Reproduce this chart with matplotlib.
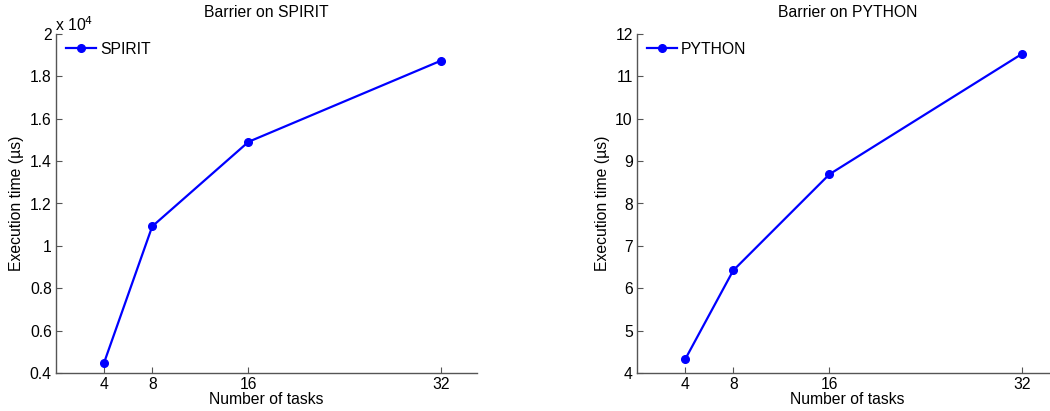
import matplotlib.pyplot as plt
from matplotlib.ticker import FuncFormatter

plt.rcParams['font.family'] = ['Liberation Sans', 'DejaVu Sans']

# data
tasks = [4, 8, 16, 32]
spirit_us = [0.449e4, 1.092e4, 1.491e4, 1.874e4]
python_us = [4.32, 6.42, 8.69, 11.53]

W, H = 1050, 411
fig = plt.figure(figsize=(W / 100, H / 100), dpi=100)

axis_color = '#555555'
fs = 11.3


def style(ax):
    for s in ['top', 'right']:
        ax.spines[s].set_visible(False)
    for s in ['left', 'bottom']:
        ax.spines[s].set_color(axis_color)
        ax.spines[s].set_linewidth(1.0)
    ax.tick_params(direction='in', length=4, colors=axis_color,
                   labelcolor='black', labelsize=fs, pad=3)
    ax.set_xlim(0, 35)
    ax.set_xticks(tasks)
    ax.set_xlabel('Number of tasks', fontsize=fs, labelpad=0)
    ax.set_ylabel('Execution time (\u00b5s)', fontsize=fs, labelpad=4)


# left panel: SPIRIT
ax1 = fig.add_axes([56 / W, (H - 373) / H, 421 / W, 339 / H])
ax1.plot(tasks, spirit_us, color='blue', lw=1.6, marker='o', ms=5.5,
         label='SPIRIT')
style(ax1)
ax1.set_ylim(0.4e4, 2e4)
ax1.set_yticks([v * 1e4 for v in [0.4, 0.6, 0.8, 1.0, 1.2, 1.4, 1.6, 1.8, 2.0]])
ax1.yaxis.set_major_formatter(FuncFormatter(lambda v, p: '%g' % (v / 1e4)))
ax1.text(-0.002, 1.0, 'x 10$^4$', transform=ax1.transAxes, fontsize=fs,
         ha='left', va='bottom')
ax1.set_title('Barrier on SPIRIT', fontsize=fs, pad=12)
ax1.legend(loc='upper left', frameon=False, fontsize=fs, handlelength=1.9,
           handletextpad=0.25, borderaxespad=0.0, bbox_to_anchor=(0.01, 0.995))

# right panel: PYTHON
ax2 = fig.add_axes([637 / W, (H - 373) / H, 421 / W, 339 / H])
ax2.plot(tasks, python_us, color='blue', lw=1.6, marker='o', ms=5.5,
         label='PYTHON')
style(ax2)
ax2.set_ylim(4, 12)
ax2.set_yticks(range(4, 13))
ax2.set_title('Barrier on PYTHON', fontsize=fs, pad=12)
ax2.legend(loc='upper left', frameon=False, fontsize=fs, handlelength=1.9,
           handletextpad=0.25, borderaxespad=0.0, bbox_to_anchor=(0.01, 0.995))

fig.savefig('out.png', dpi=100)
